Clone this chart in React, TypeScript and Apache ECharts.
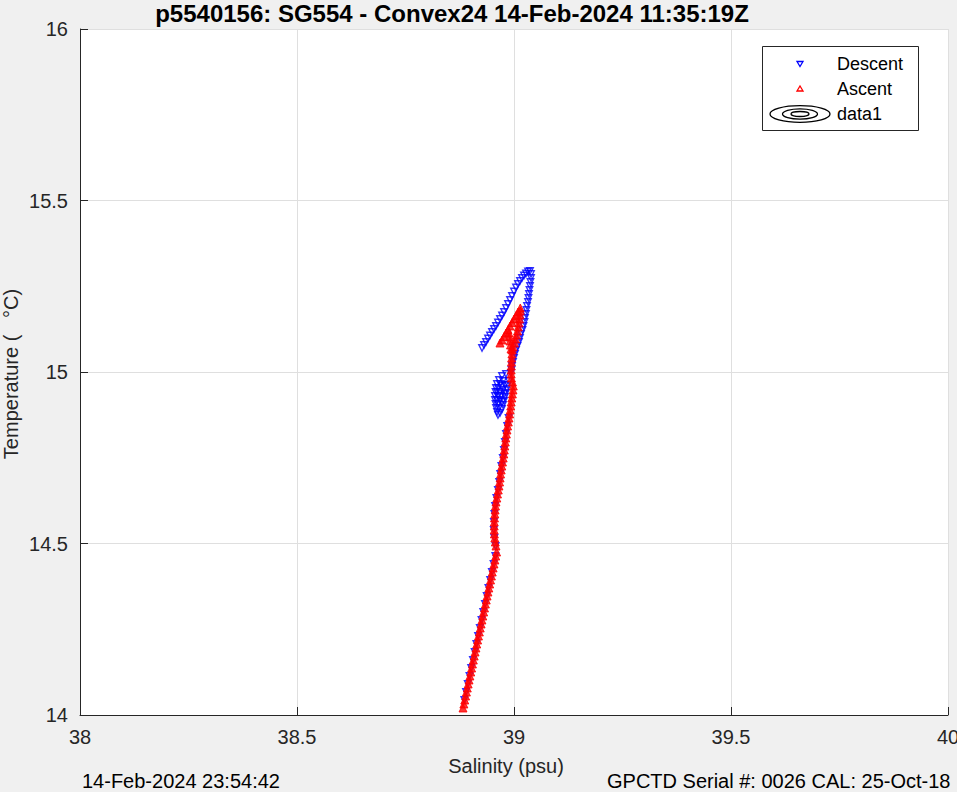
import React, { useEffect, useRef } from "react";
import * as echarts from "echarts";

// Axis ticks
const xTicks = [38, 38.5, 39, 39.5, 40];
const yTicks = [14, 14.5, 15, 15.5, 16];

// Texts
const titleText = "p5540156: SG554 - Convex24 14-Feb-2024 11:35:19Z";
const xLabel = "Salinity (psu)";
const yLabel = "Temperature (   °C)";
const footLeft = "14-Feb-2024 23:54:42";
const footRight = "GPCTD Serial #: 0026 CAL: 25-Oct-18";
const legendNames = ["Descent", "Ascent", "data1"];

// Descent (blue, downward triangles)
const descentSalinity = [
  // upper warm arm (left side)
  38.9263, 38.9309, 38.9355, 38.9401, 38.9447, 38.9493, 38.9539, 38.9585, 38.9631, 38.9677, 38.9724, 38.977, 38.9816,
  38.9862, 38.9908, 38.9954, 39.0, 39.0046, 39.0092, 39.0138, 39.0184, 39.023, 39.0276, 39.0323, 39.0369,
  // upper warm arm (right side)
  39.0392, 39.0392, 39.038, 39.0369, 39.0357, 39.0346, 39.0334, 39.0323, 39.03, 39.0288, 39.0276, 39.0253, 39.0242,
  39.0219, 39.0196, 39.0161, 39.0138, 39.0115, 39.0081, 39.0046, 39.0023, 39.0, 38.9977, 38.9954, 38.9942,
  // blob near 14.9
  38.9931, 38.9816, 38.9724, 38.9654, 38.9608, 38.9585, 38.9574, 38.9562, 38.9562, 38.9574, 38.9585, 38.9608, 38.9631,
  38.9677, 38.9724, 38.9747, 38.977, 38.9793, 38.9816, 38.9839, 38.9862, 38.9885, 38.9677, 38.9677, 38.9724, 38.9631,
  38.9631, 38.9747, 38.9608, 38.9608, 38.9654, 38.97, 38.9747, 38.9793, 38.9677, 38.9631, 38.9724, 38.977,
  // lower profile
  38.9875, 38.9843, 38.9815, 38.979, 38.9767, 38.9742, 38.9709, 38.9682, 38.9659, 38.9629, 38.9594, 38.9564, 38.9548,
  38.9537, 38.9534, 38.9548, 38.9576, 38.9569, 38.9529, 38.949, 38.945, 38.941, 38.9371, 38.9331, 38.9291, 38.9251,
  38.9212, 38.9172, 38.9132, 38.9093, 38.9053, 38.9013, 38.8974, 38.8934, 38.8894, 38.8855,
];
const descentTemperature = [
  15.07, 15.0787, 15.0875, 15.0977, 15.1064, 15.1166, 15.1254, 15.1341, 15.1443, 15.1545, 15.1647, 15.1749, 15.1866,
  15.1983, 15.2099, 15.2216, 15.2347, 15.2464, 15.2566, 15.2653, 15.2741, 15.2813, 15.2872, 15.293, 15.2945,
  15.2857, 15.2741, 15.2624, 15.2507, 15.2391, 15.2274, 15.2157, 15.2041, 15.1924, 15.1808, 15.1691, 15.1574, 15.1458,
  15.1341, 15.1225, 15.1108, 15.0991, 15.0875, 15.0758, 15.0641, 15.0525, 15.0408, 15.0292, 15.0175, 15.0058,
  14.9971, 14.9942, 14.9883, 14.9767, 14.965, 14.9534, 14.9417, 14.93, 14.9184, 14.9067, 14.895, 14.8834, 14.8746,
  14.8805, 14.8921, 14.9038, 14.9155, 14.9271, 14.9388, 14.9504, 14.9621, 14.9738, 14.9417, 14.9184, 14.9592, 14.9067,
  14.93, 14.9738, 14.9417, 14.9184, 14.895, 14.93, 14.9475, 14.9621, 14.965, 14.9534, 14.9125, 14.9359,
  14.8659, 14.8426, 14.8192, 14.7959, 14.7726, 14.7493, 14.7259, 14.7026, 14.6793, 14.656, 14.6326, 14.6093, 14.586,
  14.5627, 14.5394, 14.516, 14.4927, 14.4635, 14.4402, 14.4169, 14.3936, 14.3703, 14.3469, 14.3236, 14.3003, 14.277,
  14.2536, 14.2303, 14.207, 14.1837, 14.1603, 14.137, 14.1137, 14.0904, 14.067, 14.0437,
];

// Ascent (red, upward triangles)
const ascentSalinity = [
  // deep straight part
  38.8825, 38.8845, 38.8865, 38.8885, 38.8904, 38.8924, 38.8944, 38.8964, 38.8984, 38.9004, 38.9023, 38.9043, 38.9063,
  38.9083, 38.9103, 38.9123, 38.9142, 38.9162, 38.9182, 38.9202, 38.9222, 38.9242, 38.9261, 38.9281, 38.9301, 38.9321,
  38.9341, 38.9361, 38.938, 38.94, 38.942, 38.944, 38.946, 38.948, 38.9499, 38.9519, 38.9539, 38.9559, 38.9579, 38.9599,
  // above the kink
  38.9585, 38.9569, 38.9558, 38.9548, 38.9544, 38.9544, 38.9546, 38.9551, 38.9558, 38.9565, 38.9574, 38.9585, 38.9604,
  38.962, 38.9638, 38.9654, 38.9668, 38.968, 38.9691, 38.9705, 38.9719, 38.9735, 38.9751, 38.9765, 38.9777, 38.9788,
  38.98, 38.9811, 38.9825, 38.9839, 38.9853, 38.9869, 38.9885, 38.9899, 38.9912, 38.9924, 38.9935, 38.9949, 38.9963,
  38.9977, 38.9984, 38.9965, 38.9942, 38.9935, 38.9935, 38.9938, 38.9942, 38.9945, 38.9952, 38.9961,
  // right arm to the warm tip
  38.9977, 39.0012, 39.0035, 39.0058, 39.0081, 39.0099, 39.0115, 39.0127, 39.0138, 39.0145, 39.0145,
  // left arm back down
  39.0092, 39.0046, 39.0, 38.9954, 38.9908, 38.9862, 38.9816, 38.977, 38.9724, 38.9677,
  // middle piece
  38.9885, 38.9896, 38.9908, 38.9919, 38.9931,
];
const ascentTemperature = [
  14.0204, 14.0321, 14.0437, 14.0554, 14.067, 14.0787, 14.0904, 14.102, 14.1137, 14.1254, 14.137, 14.1487, 14.1603,
  14.172, 14.1837, 14.1953, 14.207, 14.2187, 14.2303, 14.242, 14.2536, 14.2653, 14.277, 14.2886, 14.3003, 14.312,
  14.3236, 14.3353, 14.3469, 14.3586, 14.3703, 14.3819, 14.3936, 14.4053, 14.4169, 14.4286, 14.4402, 14.4519, 14.4635,
  14.4752,
  14.4927, 14.5044, 14.516, 14.5277, 14.5394, 14.551, 14.5627, 14.5743, 14.586, 14.5977, 14.6093, 14.621, 14.6326,
  14.6443, 14.656, 14.6676, 14.6793, 14.691, 14.7026, 14.7143, 14.7259, 14.7376, 14.7493, 14.7609, 14.7726, 14.7843,
  14.7959, 14.8076, 14.8192, 14.8309, 14.8426, 14.8542, 14.8659, 14.8776, 14.8892, 14.9009, 14.9125, 14.9242, 14.9359,
  14.9475, 14.9592, 14.9708, 14.9825, 14.9942, 15.0058, 15.0175, 15.0292, 15.0408, 15.0525, 15.0641,
  15.0729, 15.0845, 15.0962, 15.1079, 15.1195, 15.1312, 15.1429, 15.1545, 15.1662, 15.1778, 15.1866,
  15.1749, 15.1647, 15.1545, 15.1443, 15.1341, 15.1239, 15.1137, 15.1035, 15.0933, 15.0845,
  15.1137, 15.102, 15.0904, 15.0787, 15.0671,
];

const FONT = "Liberation Sans, Arial, Helvetica, sans-serif";
const AXIS_COLOR = "#262626";
const GRID_COLOR = "#dfdfdf";

function zip(a: number[], b: number[]) {
  return a.map((v, i) => [v, b[i]]);
}

export default function App() {
  const ref = useRef<HTMLDivElement>(null);

  useEffect(() => {
    if (!ref.current) return;
    const chart = echarts.init(ref.current, null, { renderer: "svg" });

    const axisCommon = {
      type: "value" as const,
      axisLine: { show: true, onZero: false, lineStyle: { color: AXIS_COLOR, width: 1 } },
      axisTick: { show: true, inside: true, length: 8, lineStyle: { color: AXIS_COLOR, width: 1 } },
      axisLabel: { color: AXIS_COLOR, fontSize: 20, fontFamily: FONT, margin: 12 },
      splitLine: { show: true, lineStyle: { color: GRID_COLOR, width: 1 } },
    };

    chart.setOption({
      animation: false,
      backgroundColor: "#f0f0f0",
      grid: {
        left: 80,
        right: 9,
        top: 29,
        bottom: 77,
        show: true,
        backgroundColor: "#ffffff",
        borderWidth: 0,
        containLabel: false,
        outerBoundsMode: "none",
      },
      xAxis: {
        ...axisCommon,
        min: xTicks[0],
        max: xTicks[xTicks.length - 1],
        interval: xTicks[1] - xTicks[0],
        axisLabel: { ...axisCommon.axisLabel, formatter: (v: number) => String(v) },
      },
      yAxis: {
        ...axisCommon,
        min: yTicks[0],
        max: yTicks[yTicks.length - 1],
        interval: yTicks[1] - yTicks[0],
        axisLabel: { ...axisCommon.axisLabel, formatter: (v: number) => String(v) },
      },
      series: [
        {
          name: legendNames[0],
          type: "scatter",
          silent: true,
          symbol: "triangle",
          symbolRotate: 180,
          symbolSize: 6.5,
          itemStyle: { color: "rgba(0,0,0,0)", borderColor: "#0000ff", borderWidth: 1.4 },
          data: zip(descentSalinity, descentTemperature),
        },
        {
          name: legendNames[1],
          type: "scatter",
          silent: true,
          symbol: "triangle",
          symbolSize: 8,
          itemStyle: { color: "#ff0000", borderColor: "#ff0000", borderWidth: 1 },
          data: zip(ascentSalinity, ascentTemperature),
        },
      ],
      graphic: [
        {
          type: "text",
          x: 452,
          y: 13,
          style: {
            text: titleText,
            font: `bold 24px ${FONT}`,
            fill: "#000",
            align: "center",
            verticalAlign: "middle",
          },
        },
        {
          type: "text",
          x: 506,
          y: 766,
          style: { text: xLabel, font: `20px ${FONT}`, fill: AXIS_COLOR, align: "center", verticalAlign: "middle" },
        },
        {
          type: "text",
          x: 11,
          y: 374,
          rotation: Math.PI / 2,
          style: { text: yLabel, font: `20px ${FONT}`, fill: AXIS_COLOR, align: "center", verticalAlign: "middle" },
        },
        {
          type: "text",
          x: 82,
          y: 781,
          style: { text: footLeft, font: `20px ${FONT}`, fill: "#000", align: "left", verticalAlign: "middle" },
        },
        {
          type: "text",
          x: 607,
          y: 781,
          style: { text: footRight, font: `20px ${FONT}`, fill: "#000", align: "left", verticalAlign: "middle" },
        },
        // legend box
        {
          type: "rect",
          shape: { x: 762.5, y: 46.5, width: 156, height: 84 },
          style: { fill: "#ffffff", stroke: AXIS_COLOR, lineWidth: 1 },
        },
        {
          type: "polygon",
          shape: { points: [[797, 61.5], [803, 61.5], [800, 66.5]] },
          style: { fill: "none", stroke: "#0000ff", lineWidth: 1.3 },
        },
        {
          type: "polygon",
          shape: { points: [[797, 91], [803, 91], [800, 86]] },
          style: { fill: "none", stroke: "#ff0000", lineWidth: 1.3 },
        },
        { type: "ellipse", shape: { cx: 800, cy: 114, rx: 30, ry: 8.3 }, style: { fill: "none", stroke: "#000", lineWidth: 1.3 } },
        { type: "ellipse", shape: { cx: 800, cy: 114, rx: 17.5, ry: 5.2 }, style: { fill: "none", stroke: "#000", lineWidth: 1.3 } },
        { type: "ellipse", shape: { cx: 800, cy: 114, rx: 9, ry: 2.5 }, style: { fill: "none", stroke: "#000", lineWidth: 1.3 } },
        {
          type: "text",
          x: 837,
          y: 64,
          style: { text: legendNames[0], font: `18px ${FONT}`, fill: "#000", align: "left", verticalAlign: "middle" },
        },
        {
          type: "text",
          x: 837,
          y: 89,
          style: { text: legendNames[1], font: `18px ${FONT}`, fill: "#000", align: "left", verticalAlign: "middle" },
        },
        {
          type: "text",
          x: 837,
          y: 114,
          style: { text: legendNames[2], font: `18px ${FONT}`, fill: "#000", align: "left", verticalAlign: "middle" },
        },
      ],
    });

    return () => chart.dispose();
  }, []);

  return (
    <div
      ref={ref}
      style={{ position: "fixed", left: 0, top: 0, width: 957, height: 792, background: "#f0f0f0" }}
    />
  );
}
